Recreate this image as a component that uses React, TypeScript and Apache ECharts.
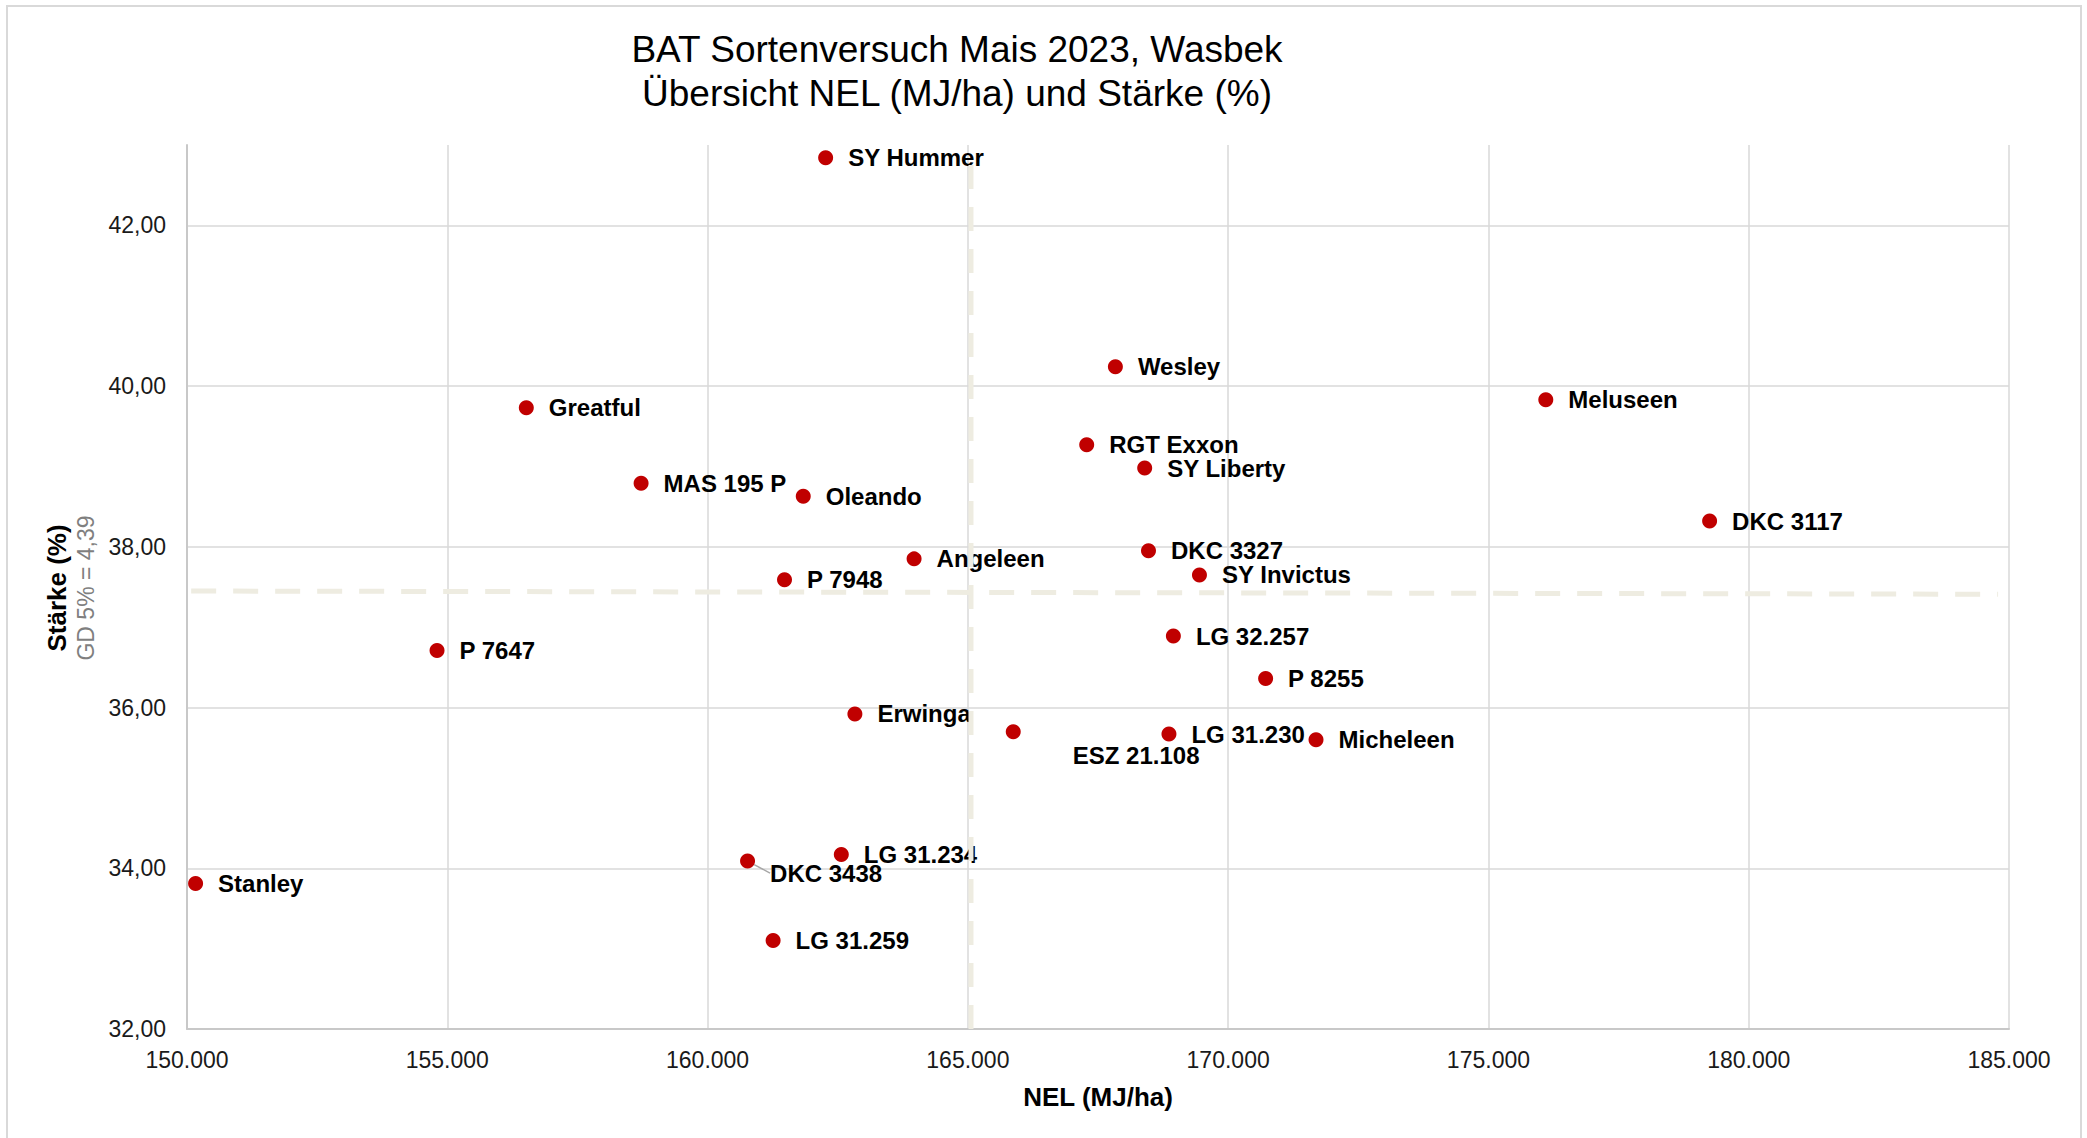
import React, { useEffect, useRef } from "react";
import * as echarts from "echarts";

// ---- Data ----
const varieties = [
  "SY Hummer", "Wesley", "Greatful", "Meluseen", "RGT Exxon", "SY Liberty",
  "MAS 195 P", "Oleando", "DKC 3117", "DKC 3327", "Angeleen", "SY Invictus",
  "P 7948", "LG 32.257", "P 7647", "P 8255", "Erwinga", "ESZ 21.108",
  "LG 31.230", "Micheleen", "LG 31.234", "DKC 3438", "Stanley", "LG 31.259",
];
const nelValues = [
  162268, 167834, 156518, 176102, 167283, 168397,
  158723, 161838, 179249, 168470, 163967, 169449,
  161478, 168948, 154803, 170720, 162830, 165872,
  168863, 171688, 162569, 160768, 150165, 161259,
];
const starkeValues = [
  42.84, 40.24, 39.73, 39.83, 39.27, 38.98,
  38.79, 38.63, 38.32, 37.95, 37.85, 37.65,
  37.59, 36.89, 36.71, 36.36, 35.92, 35.70,
  35.67, 35.60, 34.17, 34.09, 33.81, 33.10,
];
// reference lines (mean NEL, mean Stärke)
const refVertical = [[165060, 32], [165060, 42.79]];
const refHorizontal = [[150080, 37.45], [184790, 37.41]];

const xTicks = { min: 150000, max: 185000, interval: 5000 };
const yTicks = { min: 32, max: 43, interval: 2 };

const titleLines = ["BAT Sortenversuch Mais 2023, Wasbek", "Übersicht NEL (MJ/ha) und Stärke (%)"];
const xName = "NEL (MJ/ha)";
const yName = "Stärke (%)";
const ySubName = "GD 5% = 4,39";

// label adjustments (styling only)
const labelShift: Record<string, { dx: number; dy: number; line?: boolean }> = {
  "ESZ 21.108": { dx: 37, dy: 24 },
  "DKC 3438": { dx: 0, dy: 12, line: true },
};

const FONT = "'Liberation Sans', Arial, Helvetica, sans-serif";

const fmtX = (v: number) => Math.round(v).toString().replace(/\B(?=(\d{3})+(?!\d))/g, ".");
const fmtY = (v: number) => v.toFixed(2).replace(".", ",");

export default function App() {
  const ref = useRef<HTMLDivElement>(null);
  useEffect(() => {
    document.body.style.margin = "0";
    if (!ref.current) return;
    const chart = echarts.init(ref.current, undefined, { renderer: "svg" });

    const data = varieties.map((n, i) => {
      const s = labelShift[n];
      const item: any = { name: n, value: [nelValues[i], starkeValues[i]] };
      if (s && s.line) {
        item.labelLine = { show: true, lineStyle: { color: "#A6A6A6", width: 1.5 } };
      }
      return item;
    });

    chart.setOption({
      animation: false,
      backgroundColor: "#ffffff",
      textStyle: { fontFamily: FONT },
      grid: { left: 187, right: 78, top: 145, bottom: 109, containLabel: false },
      xAxis: {
        type: "value",
        min: xTicks.min,
        max: xTicks.max,
        interval: xTicks.interval,
        name: xName,
        nameLocation: "middle",
        nameGap: 55,
        nameTextStyle: { fontFamily: FONT, fontSize: 26, fontWeight: "bold", color: "#000" },
        axisLine: { show: true, lineStyle: { color: "#C8C8C8", width: 2 } },
        axisTick: { show: false },
        axisLabel: { formatter: fmtX, fontFamily: FONT, fontSize: 23, color: "#1a1a1a", margin: 19 },
        splitLine: { show: true, lineStyle: { color: "#D9D9D9", width: 1.5 } },
      },
      yAxis: {
        type: "value",
        min: yTicks.min,
        max: yTicks.max,
        interval: yTicks.interval,
        axisLine: { show: true, lineStyle: { color: "#C8C8C8", width: 2 } },
        axisTick: { show: false },
        axisLabel: {
          formatter: fmtY, fontFamily: FONT, fontSize: 23, color: "#1a1a1a", margin: 21,
          showMaxLabel: false,
        },
        splitLine: { show: true, showMaxLine: false, lineStyle: { color: "#D9D9D9", width: 1.5 } },
      },
      graphic: [
        {
          type: "rect",
          shape: { x: 7, y: 6, width: 2074, height: 1150 },
          style: { fill: "none", stroke: "#D9D9D9", lineWidth: 2 },
          silent: true,
        },
        {
          type: "text",
          x: 957,
          y: 71,
          style: {
            text: titleLines.join("\n"),
            fontFamily: FONT,
            fontSize: 37,
            lineHeight: 44,
            fill: "#000",
            align: "center",
            verticalAlign: "middle",
          },
        },
        {
          type: "text",
          x: 57,
          y: 588,
          rotation: Math.PI / 2,
          style: {
            text: yName,
            fontFamily: FONT,
            fontSize: 26,
            fontWeight: "bold",
            fill: "#000",
            align: "center",
            verticalAlign: "middle",
          },
        },
        {
          type: "text",
          x: 86,
          y: 588,
          rotation: Math.PI / 2,
          style: {
            text: ySubName,
            fontFamily: FONT,
            fontSize: 23,
            fill: "#7F7F7F",
            align: "center",
            verticalAlign: "middle",
          },
        },
      ],
      series: [
        {
          type: "scatter",
          z: 2,
          symbol: "circle",
          symbolSize: 15,
          itemStyle: { color: "#C00000", opacity: 1 },
          data,
          label: {
            show: true,
            position: "right",
            distance: 15,
            formatter: "{b}",
            fontFamily: FONT,
            fontSize: 24,
            fontWeight: "bold",
            color: "#000",
          },
          labelLine: { show: false },
          labelLayout: (params: any) => {
            const n = varieties[params.dataIndex];
            const s = labelShift[n];
            if (s) return { dx: s.dx, dy: s.dy };
            return {};
          },
        },
        {
          type: "line",
          z: 3,
          data: refVertical,
          symbol: "none",
          silent: true,
          lineStyle: { color: "#EEECE1", width: 5, type: [24, 18], cap: "butt" },
        },
        {
          type: "line",
          z: 3,
          data: refHorizontal,
          symbol: "none",
          silent: true,
          lineStyle: { color: "#EEECE1", width: 5, type: [25, 17], cap: "butt" },
        },
      ],
    });
    return () => chart.dispose();
  }, []);
  return <div ref={ref} style={{ width: 2087, height: 1138 }} />;
}
